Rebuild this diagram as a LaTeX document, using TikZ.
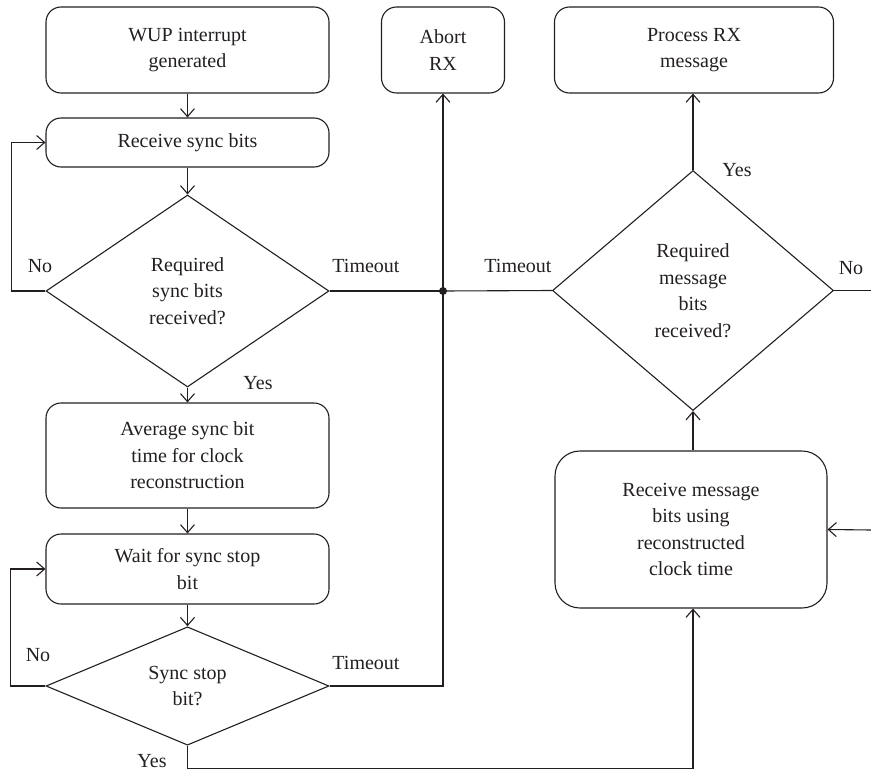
\documentclass[tikz,border=0pt]{standalone}
\usepackage{fontspec}
\setmainfont{Liberation Serif}
\usetikzlibrary{shapes.geometric,arrows.meta}
\definecolor{ink}{HTML}{231F20}
\begin{document}
\begin{tikzpicture}[x=1pt,y=-1pt,
  every node/.style={font=\fontsize{20}{26.5}\selectfont, text=ink},
  box/.style={draw=ink, line width=1.1pt, rounded corners=15pt, align=center, inner sep=0pt},
  dec/.style={draw=ink, line width=1.1pt, diamond, align=center, inner sep=0pt},
  ln/.style={draw=ink, line width=1.1pt},
  arr/.style={ln, -{Straight Barb[length=8pt,width=14pt,line width=1.1pt]}},
  lbl/.style={inner sep=0pt}]
\useasboundingbox (0,0) rectangle (871,771);
% left column
\node[box, minimum width=283pt, minimum height=86pt] (wup) at (187.5,50) {WUP interrupt\\generated};
\node[box, minimum width=283pt, minimum height=49pt] (rsb) at (187.5,142.5) {Receive sync bits};
\node[dec, minimum width=283pt, minimum height=192pt] (d1) at (187.5,291) {Required\\sync bits\\received?};
\node[box, minimum width=283pt, minimum height=105pt] (avg) at (187.5,455.5) {Average sync bit\\time for clock\\reconstruction};
\node[box, minimum width=283pt, minimum height=70pt] (wait) at (187.5,569) {Wait for sync stop\\bit};
\node[dec, minimum width=283pt, minimum height=115pt] (d3) at (187.5,686) {Sync stop\\bit?};
% middle / right
\node[box, minimum width=123pt, minimum height=86pt] (abort) at (443,50) {Abort\\RX};
\node[box, minimum width=279pt, minimum height=86pt] (prx) at (694,50) {Process RX\\message};
\node[dec, minimum width=281pt, minimum height=240pt] (d2) at (693,290.5) {Required\\message\\bits\\received?};
\node[box, rounded corners=25pt, minimum width=272pt, minimum height=157pt] (rmsg) at (691,529.5) {Receive message\\bits using\\reconstructed\\clock time};
\coordinate (j) at (443,291);
\coordinate (redge) at (871,290.5);
\coordinate (redge2) at (871,530);
\fill[ink] (j) circle (4pt);
% connectors
\draw[arr] (wup) -- (rsb);
\draw[arr] (rsb) -- (d1);
\draw[arr] (d1.west) -- ++(-34,0) |- (rsb.west);
\draw[ln] (d1.east) -- (j);
\draw[ln] (d2.west) -- (j);
\draw[arr] (j) -- (abort.south);
\draw[ln] (d3.east) -| (j);
\draw[arr] (d1.south) -- (avg.north);
\draw[arr] (avg) -- (wait);
\draw[arr] (wait.south) -- (d3.north);
\draw[arr] (d3.west) -- ++(-35,0) |- (wait.west);
\draw[arr] (d3.south) -- ++(0,23) -| (d2.south |- rmsg.south);
\draw[arr] (d2.south |- rmsg.north) -- (d2.south);
\draw[arr] (d2.north) -- (d2.north |- prx.south);
\draw[ln] (d2.east) -- (redge);
\draw[arr] (redge2) -- (rmsg.east);
% labels
\node[lbl] (l1) at (40,266) {No};
\node[lbl] (l2) at (366,266) {Timeout};
\node[lbl] (l3) at (258,383) {Yes};
\node[lbl] (l4) at (518,266) {Timeout};
\node[lbl] (l5) at (737,170) {Yes};
\node[lbl] (l6) at (851,268) {No};
\node[lbl] (l7) at (38,655) {No};
\node[lbl] (l8) at (366,663) {Timeout};
\node[lbl] (l9) at (152,761) {Yes};
\end{tikzpicture}
\end{document}
